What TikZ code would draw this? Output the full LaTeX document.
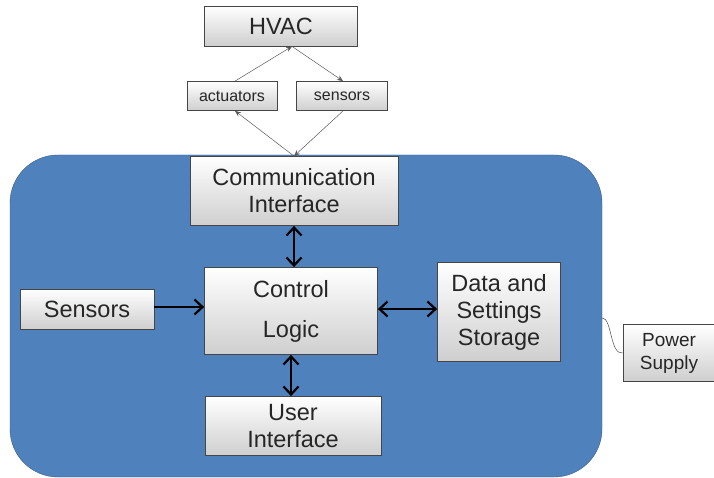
\documentclass[tikz,border=0pt]{standalone}
\usepackage{fontspec}
\setmainfont{Liberation Sans}
\usetikzlibrary{arrows.meta, positioning}
\definecolor{boardblue}{RGB}{79,129,189}
\definecolor{boardedge}{RGB}{56,93,138}
\definecolor{boxedge}{RGB}{70,70,70}
\definecolor{inktext}{RGB}{38,38,38}

\begin{document}
\begin{tikzpicture}[x=1pt, y=-1pt,
        box/.style={draw=boxedge, line width=0.8pt, top color=white, bottom color=gray!38, align=center, inner sep=0pt, text=inktext, font=\fontsize{23.5}{27}\selectfont},
        smallbox/.style={box, font=\fontsize{16}{18}\selectfont},
        thin link/.style={-{Stealth[length=6pt, width=5pt]}, gray!70!black, line width=0.5pt},
        bus/.style={line width=2.2pt, black, >={Straight Barb[length=8pt, width=15pt]}},
    ]
        \useasboundingbox (0,0) rectangle (714,478);
        % device body
        \node[draw=boardedge, fill=boardblue, rounded corners=48pt, minimum width=592pt, minimum height=322pt, inner sep=0pt] (board) at (306,316) {};

        \node[box, minimum width=153pt, minimum height=40pt] (hvac) at (281,26) {HVAC};
        \node[smallbox, minimum width=90pt, minimum height=29pt] (act) at (232,96) {actuators};
        \node[smallbox, minimum width=91pt, minimum height=29pt] (sens) at (342,96) {sensors};

        \node[box, minimum width=208pt, minimum height=69pt] (comm) at (294,191) {Communication\\Interface};
        \node[box, minimum width=173pt, minimum height=87pt, font=\fontsize{23.5}{40}\selectfont] (logic) at (291,311) {Control\\Logic};
        \node[box, minimum width=134pt, minimum height=40pt] (sensors) at (87,309) {Sensors};
        \node[box, minimum width=123pt, minimum height=99pt] (store) at (499,312) {Data and\\Settings\\Storage};
        \node[box, minimum width=176pt, minimum height=59pt] (ui) at (293,426) {User\\Interface};
        \node[box, minimum width=92pt, minimum height=57pt, font=\fontsize{19}{23}\selectfont] (power) at (669,353) {Power\\Supply};

        % HVAC side
        \draw[thin link] ([xshift=3pt]act.north) -- ([xshift=11pt]hvac.south);
        \draw[thin link] ([xshift=11pt]hvac.south) -- ([xshift=1pt]sens.north);
        \draw[thin link] (comm.north) -- ([xshift=3pt]act.south);
        \draw[thin link] ([xshift=1pt]sens.south) -- (comm.north);

        % Internal buses
        \draw[bus, <->] (comm.south) -- (comm.south |- logic.north);
        \draw[bus, <->] (logic.south) -- (logic.south |- ui.north);
        \draw[bus, <->] ([yshift=2pt]logic.east) -- ([yshift=2pt]logic.east -| store.west);
        \draw[bus, ->] ([yshift=2pt]sensors.east) -- ([yshift=2pt]sensors.east -| logic.west);

        % supply lead
        \coordinate (lead) at (board.east |- 0,318);
        \draw[gray!60!black, line width=0.5pt] (lead) .. controls (612,318) and (610,355) .. (power.west);
    \end{tikzpicture}
\end{document}
